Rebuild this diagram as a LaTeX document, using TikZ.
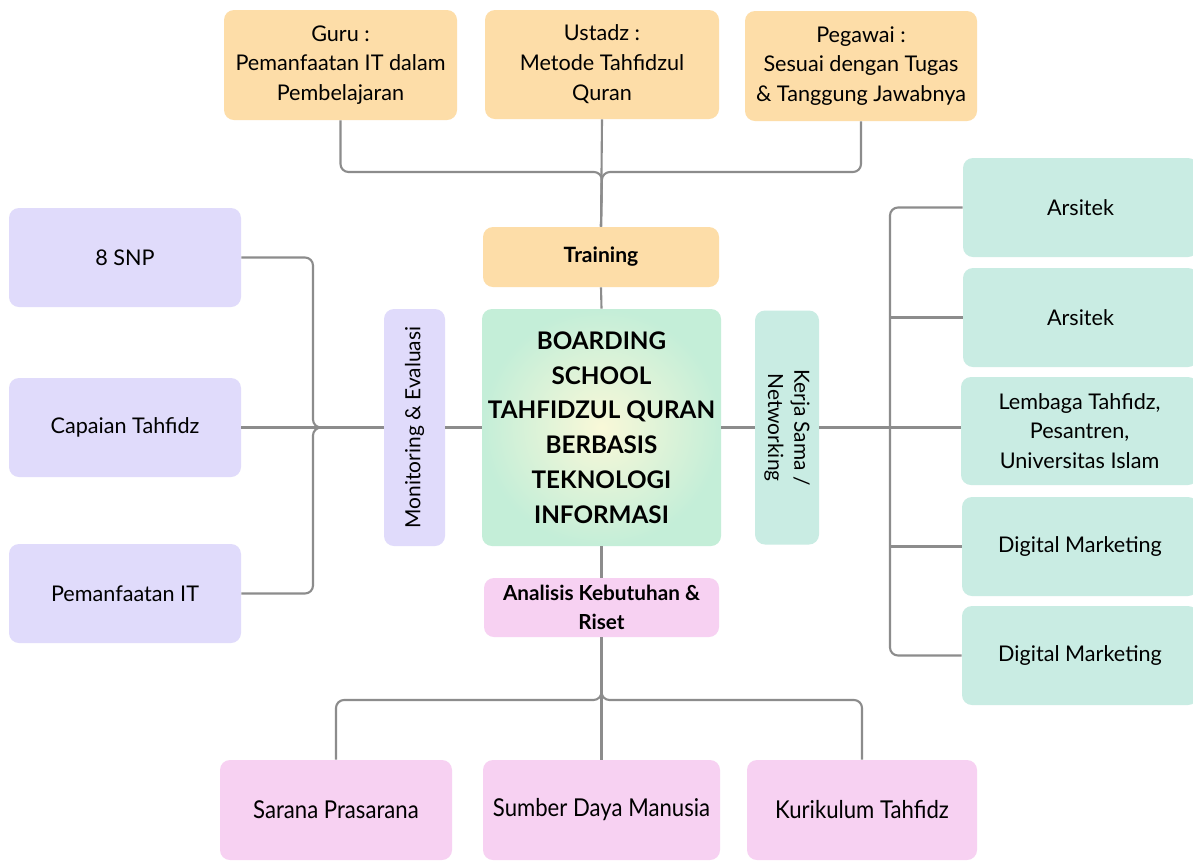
\documentclass[tikz,border=0pt]{standalone}
\usepackage{fontspec}
\setmainfont{Lato}
\newfontfamily\narrowfont[FakeStretch=0.9]{Lato}
\definecolor{peach}{HTML}{FDDDA8}
\definecolor{lilac}{HTML}{E0DBFB}
\definecolor{mint}{HTML}{C9ECE3}
\definecolor{pinky}{HTML}{F7D1F2}
\definecolor{core}{HTML}{C4EED8}
\definecolor{coreglow}{HTML}{F9F8D8}
\definecolor{wire}{HTML}{8C8C8C}
\tikzset{
  box/.style 2 args={rounded corners=0.2cm, inner sep=2pt, align=center,
    minimum width=#1*0.02cm, minimum height=#2*0.02cm,
    font=\fontsize{12.3}{17}\selectfont},
  conn/.style={wire, line width=1.2pt, rounded corners=0.16cm},
}
\begin{document}
\begin{tikzpicture}[x=0.02cm, y=-0.02cm]
\useasboundingbox (0,0) rectangle (1193,860);
\fill[white] (0,0) rectangle (1193,860);

  % top row
  \node[box={233}{110}, fill=peach] (guru) at (340.5,65) {Guru :\\Pemanfaatan IT dalam\\Pembelajaran};
  \node[box={234}{109}, fill=peach] (ustadz) at (602,64.5) {Ustadz :\\Metode Tahfidzul\\Quran};
  \node[box={232}{110}, fill=peach] (pegawai) at (861,66) {Pegawai :\\Sesuai dengan Tugas\\\& Tanggung Jawabnya};
  \node[box={236}{60}, fill=peach, font=\bfseries\fontsize{12}{15}\selectfont] (training) at (601,257) {Training};

  % middle
  \node[box={239}{237}, inner color=coreglow, outer color=core,
    font=\bfseries\fontsize{13.8}{19.8}\selectfont] (core) at (601.5,427.5)
    {BOARDING\\SCHOOL\\TAHFIDZUL QURAN\\BERBASIS\\TEKNOLOGI\\INFORMASI};
  \node[box={61}{237}, fill=lilac] (moneval) at (414.5,427.5) {};
  \node[rotate=90, font=\fontsize{11.9}{15}\selectfont] at (moneval) {Monitoring \& Evaluasi};
  \node[box={64}{234}, fill=mint] (kerja) at (787,427.5) {};
  \node[rotate=-90, align=center, font=\fontsize{11.9}{15}\selectfont] at (kerja) {Kerja Sama /\\Networking};

  % left
  \node[box={232}{99}, fill=lilac] (snp) at (125,257.5) {8 SNP};
  \node[box={232}{99}, fill=lilac] (capaian) at (125,427.5) {Capaian Tahfidz};
  \node[box={232}{99}, fill=lilac] (pit) at (125,593.5) {Pemanfaatan IT};

  % right
  \node[box={235}{99}, fill=mint] (ars1) at (1080.5,207.5) {Arsitek};
  \node[box={235}{99}, fill=mint] (ars2) at (1080.5,317.5) {Arsitek};
  \node[box={237}{108}, fill=mint] (lembaga) at (1079.5,431) {Lembaga Tahfidz,\\Pesantren,\\Universitas Islam};
  \node[box={236}{99}, fill=mint] (dm1) at (1080,546.5) {Digital Marketing};
  \node[box={236}{99}, fill=mint] (dm2) at (1080,655.5) {Digital Marketing};

  % bottom
  \node[box={235}{59}, fill=pinky, font=\bfseries\fontsize{11.8}{16.5}\selectfont] (analisis) at (601.5,607.5) {Analisis Kebutuhan \&\\Riset};
  \node[box={232}{100}, fill=pinky, font=\narrowfont\fontsize{14}{17}\selectfont] (sarana) at (336,810) {Sarana Prasarana};
  \node[box={237}{100}, fill=pinky, font=\narrowfont\fontsize{14}{17}\selectfont] (sdm) at (601.5,810) {Sumber Daya Manusia};
  \node[box={230}{100}, fill=pinky, font=\narrowfont\fontsize{14}{17}\selectfont] (kurikulum) at (862,810) {Kurikulum Tahfidz};

  \coordinate (jtop) at (ustadz.south |- 0,172);
  \coordinate (jleft) at (313,0 |- moneval.west);
  \coordinate (jright) at (890,0 |- kerja.east);
  \coordinate (jbot) at (analisis.south |- 0,700);

  \draw[conn] (guru.south) |- (jtop) -- (training.north);
  \draw[conn] (pegawai.south) |- (jtop) -- (training.north);
  \draw[conn] (ustadz.south) -- (training.north);
  \draw[conn] (training.south) -- (core.north);

  \draw[conn] (snp.east) -| (jleft) -- (moneval.west);
  \draw[conn] (pit.east) -| (jleft) -- (moneval.west);
  \draw[conn] (capaian.east) -- (moneval.west);
  \draw[conn] (moneval.east) -- (core.west);

  \draw[conn] (core.east) -- (kerja.west);
  \draw[conn] (kerja.east) -- (kerja.east -| lembaga.west);
  \draw[conn] (ars1.west) -| (jright) |- (dm2.west);
  \foreach \b in {ars2, dm1} {%
    \draw[conn] (\b.west) -- (\b.west -| jright);
  }

  \draw[conn] (core.south) -- (analisis.north);
  \draw[conn] (analisis.south) -- (sdm.north);
  \draw[conn] (analisis.south) -- (jbot) -| (sarana.north);
  \draw[conn] (analisis.south) -- (jbot) -| (kurikulum.north);
\end{tikzpicture}
\end{document}
